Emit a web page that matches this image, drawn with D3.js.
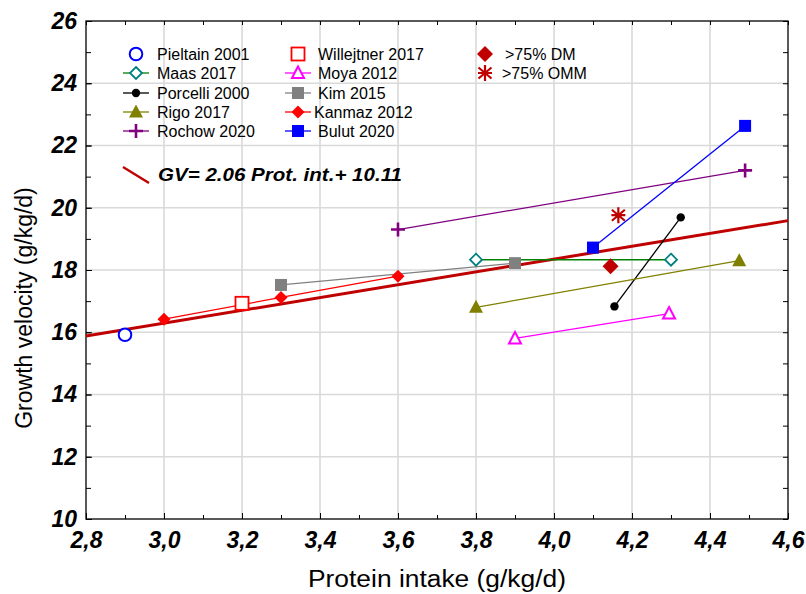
<!DOCTYPE html>
<html><head><meta charset="utf-8">
<script src="https://cdn.jsdelivr.net/npm/d3@7"></script>
<style>body{margin:0;background:#fff}svg{display:block}</style>
</head><body>
<svg id="c" width="806" height="594"></svg>
<script>
// ---------- data ----------
const xTicks = [2.8, 3.0, 3.2, 3.4, 3.6, 3.8, 4.0, 4.2, 4.4, 4.6];
const xTickLabels = ["2,8", "3,0", "3,2", "3,4", "3,6", "3,8", "4,0", "4,2", "4,4", "4,6"];
const yTicks = [10, 12, 14, 16, 18, 20, 22, 24, 26];
const yTickLabels = ["10", "12", "14", "16", "18", "20", "22", "24", "26"];

const studies = ["Pieltain 2001", "Maas 2017", "Porcelli 2000", "Rigo 2017", "Rochow 2020",
                 "Willejtner 2017", "Moya 2012", "Kim 2015", "Kanmaz 2012", "Bulut 2020",
                 ">75% DM", ">75% OMM"];
const studyProtein = [[2.9], [3.8, 4.3], [4.155, 4.325], [3.8, 4.475], [3.6, 4.49],
                      [3.2], [3.9, 4.295], [3.3, 3.9], [3.0, 3.3, 3.6], [4.1, 4.49],
                      [4.145], [4.165]];
const studyGV = [[15.92], [18.33, 18.33], [16.83, 19.69], [16.8, 18.3], [19.3, 21.2],
                 [16.93], [15.8, 16.6], [17.52, 18.22], [16.42, 17.12, 17.8], [18.72, 22.63],
                 [18.12], [19.76]];
const studyColor = ["#0000ff", "#008080", "#000000", "#808000", "#800080",
                    "#ff0000", "#ff00ff", "#808080", "#ff0000", "#0000ff",
                    "#c00000", "#c00000"];
const lineColor = [null, "#008000", "#000000", "#808000", "#800080",
                   null, "#ff00ff", "#808080", "#ff0000", "#0000ff", null, null];
const studyMarker = ["circleOpen", "diamondOpen", "dot", "triangle", "plus",
                     "squareOpen", "triangleOpen", "square", "diamond", "square",
                     "diamondBig", "asterisk"];

const regSlope = 2.06, regIntercept = 10.11;
const regLabel = "GV= 2.06 Prot. int.+ 10.11";

// ---------- layout ----------
const svg = d3.select("#c");
const L = 86, R = 788, T = 21, B = 519;
const x = d3.scaleLinear().domain([2.8, 4.6]).range([L, R]);
const y = d3.scaleLinear().domain([10, 26]).range([B, T]);
const tickFont = "Liberation Sans, Arial, sans-serif";

// grid
const grid = svg.append("g");
grid.selectAll(".gx").data(xTicks.slice(1, -1)).enter().append("line")
  .attr("x1", d => x(d)).attr("x2", d => x(d)).attr("y1", T).attr("y2", B)
  .attr("stroke", "#d9d9d9").attr("stroke-width", 1.6);
grid.selectAll(".gy").data(yTicks.slice(1, -1)).enter().append("line")
  .attr("y1", d => y(d)).attr("y2", d => y(d)).attr("x1", L).attr("x2", R)
  .attr("stroke", "#d9d9d9").attr("stroke-width", 1.6);

// axes (ticks inside)
const xMinor = d3.range(2.8, 4.61, 0.1).map(v => +v.toFixed(2));
const yMinor = d3.range(10, 26.1, 1);
function styleAxis(g){ g.select(".domain").remove(); g.selectAll("line").attr("stroke","#000"); }
svg.append("g").attr("transform", `translate(0,${B})`)
  .call(d3.axisBottom(x).tickValues(xMinor).tickSize(-4).tickFormat("")).call(styleAxis);
svg.append("g").attr("transform", `translate(0,${B})`)
  .call(d3.axisBottom(x).tickValues(xTicks).tickSize(-6).tickPadding(13)
    .tickFormat((d, i) => xTickLabels[i])).call(styleAxis)
  .selectAll("text").attr("font-family", tickFont)
  .attr("font-size", 23).attr("font-weight", "bold").attr("font-style", "italic").attr("fill", "#000");
svg.append("g").attr("transform", `translate(0,${T})`)
  .call(d3.axisTop(x).tickValues(xMinor).tickSize(-4).tickFormat("")).call(styleAxis);
svg.append("g").attr("transform", `translate(${L},0)`)
  .call(d3.axisLeft(y).tickValues(yMinor).tickSize(-5).tickFormat("")).call(styleAxis);
svg.append("g").attr("transform", `translate(${L},0)`)
  .call(d3.axisLeft(y).tickValues(yTicks).tickSize(-6).tickPadding(9)
    .tickFormat((d, i) => yTickLabels[i])).call(styleAxis)
  .selectAll("text").attr("font-family", tickFont)
  .attr("font-size", 23).attr("font-weight", "bold").attr("font-style", "italic").attr("fill", "#000");
svg.append("g").attr("transform", `translate(${R},0)`)
  .call(d3.axisRight(y).tickValues(yMinor).tickSize(-5).tickFormat("")).call(styleAxis);

svg.append("rect").attr("x", L).attr("y", T).attr("width", R - L).attr("height", B - T)
  .attr("fill", "none").attr("stroke", "#000").attr("stroke-width", 1.3);

// axis titles
svg.append("text").attr("x", (L + R) / 2).attr("y", 587).attr("text-anchor", "middle")
  .attr("font-family", "Liberation Sans, Arial, sans-serif").attr("font-size", 23)
  .attr("textLength", 258).attr("lengthAdjust", "spacingAndGlyphs")
  .text("Protein intake (g/kg/d)");
svg.append("text").attr("transform", "translate(32,308) rotate(-90)").attr("text-anchor", "middle")
  .attr("font-family", "Liberation Sans, Arial, sans-serif").attr("font-size", 23)
  .text("Growth velocity (g/kg/d)");

// ---------- markers ----------
function marker(g, type, color) {
  const s = g;
  switch (type) {
    case "circleOpen":
      s.append("circle").attr("r", 6.3).attr("fill", "#fff").attr("stroke", color).attr("stroke-width", 2); break;
    case "dot":
      s.append("circle").attr("r", 4.2).attr("fill", color); break;
    case "squareOpen":
      s.append("rect").attr("x", -6.5).attr("y", -6.5).attr("width", 13).attr("height", 13)
        .attr("fill", "#fff").attr("stroke", color).attr("stroke-width", 1.8); break;
    case "square":
      s.append("rect").attr("x", -6).attr("y", -6).attr("width", 12).attr("height", 12).attr("fill", color); break;
    case "diamondOpen":
      s.append("path").attr("d", "M0,-6L6,0L0,6L-6,0Z").attr("fill", "#fff").attr("stroke", color).attr("stroke-width", 1.8); break;
    case "diamond":
      s.append("path").attr("d", "M0,-6.5L6.5,0L0,6.5L-6.5,0Z").attr("fill", color); break;
    case "diamondBig":
      s.append("path").attr("d", "M0,-8L8,0L0,8L-8,0Z").attr("fill", color); break;
    case "triangle":
      s.append("path").attr("d", "M0,-7.5L7,5.5L-7,5.5Z").attr("fill", color); break;
    case "triangleOpen":
      s.append("path").attr("d", "M0,-6.5L6,5L-6,5Z").attr("fill", "#fff").attr("stroke", color).attr("stroke-width", 2); break;
    case "plus":
      s.append("path").attr("d", "M-7,0H7M0,-7V7").attr("stroke", color).attr("stroke-width", 2.6).attr("fill", "none"); break;
    case "asterisk":
      s.append("path").attr("d", "M0,-8V8M-6.5,-5.5L6.5,5.5M-6.5,5.5L6.5,-5.5M-7,0H7").attr("stroke", color).attr("stroke-width", 2.2).attr("fill", "none"); break;
  }
}

// regression line
svg.append("line")
  .attr("x1", x(2.8)).attr("y1", y(regSlope * 2.8 + regIntercept))
  .attr("x2", x(4.6)).attr("y2", y(regSlope * 4.6 + regIntercept))
  .attr("stroke", "#c00000").attr("stroke-width", 3);

// study lines & points
const plot = svg.append("g");
studies.forEach((name, i) => {
  const pts = studyProtein[i].map((p, j) => [x(p), y(studyGV[i][j])]);
  if (lineColor[i] && pts.length > 1) {
    plot.append("path").attr("d", d3.line()(pts)).attr("fill", "none")
      .attr("stroke", lineColor[i]).attr("stroke-width", 1.3);
  }
});
studies.forEach((name, i) => {
  studyProtein[i].forEach((p, j) => {
    const g = plot.append("g").attr("transform", `translate(${x(p)},${y(studyGV[i][j])})`);
    marker(g, studyMarker[i], studyColor[i]);
  });
});

// ---------- legend ----------
const legCols = [136, 298, 485];
const legText = [157, 318, 505];
const legRows = [54, 73, 93, 112, 131];
const leg = svg.append("g").attr("font-family", "Liberation Sans, Arial, sans-serif").attr("font-size", 16);
studies.forEach((name, i) => {
  const col = i < 5 ? 0 : (i < 10 ? 1 : 2);
  const row = i < 10 ? i % 5 : i - 10;
  const cx = legCols[col], cy = legRows[row];
  if (lineColor[i] && studyProtein[i].length > 1) {
    leg.append("line").attr("x1", cx - 13).attr("x2", cx + 13).attr("y1", cy).attr("y2", cy)
      .attr("stroke", lineColor[i]).attr("stroke-width", 1.3);
  }
  const g = leg.append("g").attr("transform", `translate(${cx},${cy})`);
  marker(g, studyMarker[i], studyColor[i]);
  leg.append("text").attr("x", legText[col] - (name === "Kanmaz 2012" ? 4 : 0) + (col === 2 && row === 1 ? -3 : 0))
    .attr("y", cy + 6).text(name);
});

// regression legend
svg.append("line").attr("x1", 123).attr("y1", 167).attr("x2", 149).attr("y2", 183)
  .attr("stroke", "#c00000").attr("stroke-width", 2.5);
svg.append("text").attr("x", 158).attr("y", 181)
  .attr("font-family", "Liberation Sans, Arial, sans-serif").attr("font-size", 19)
  .attr("font-weight", "bold").attr("font-style", "italic")
  .attr("textLength", 244).attr("lengthAdjust", "spacingAndGlyphs")
  .text(regLabel);
</script>
</body></html>
